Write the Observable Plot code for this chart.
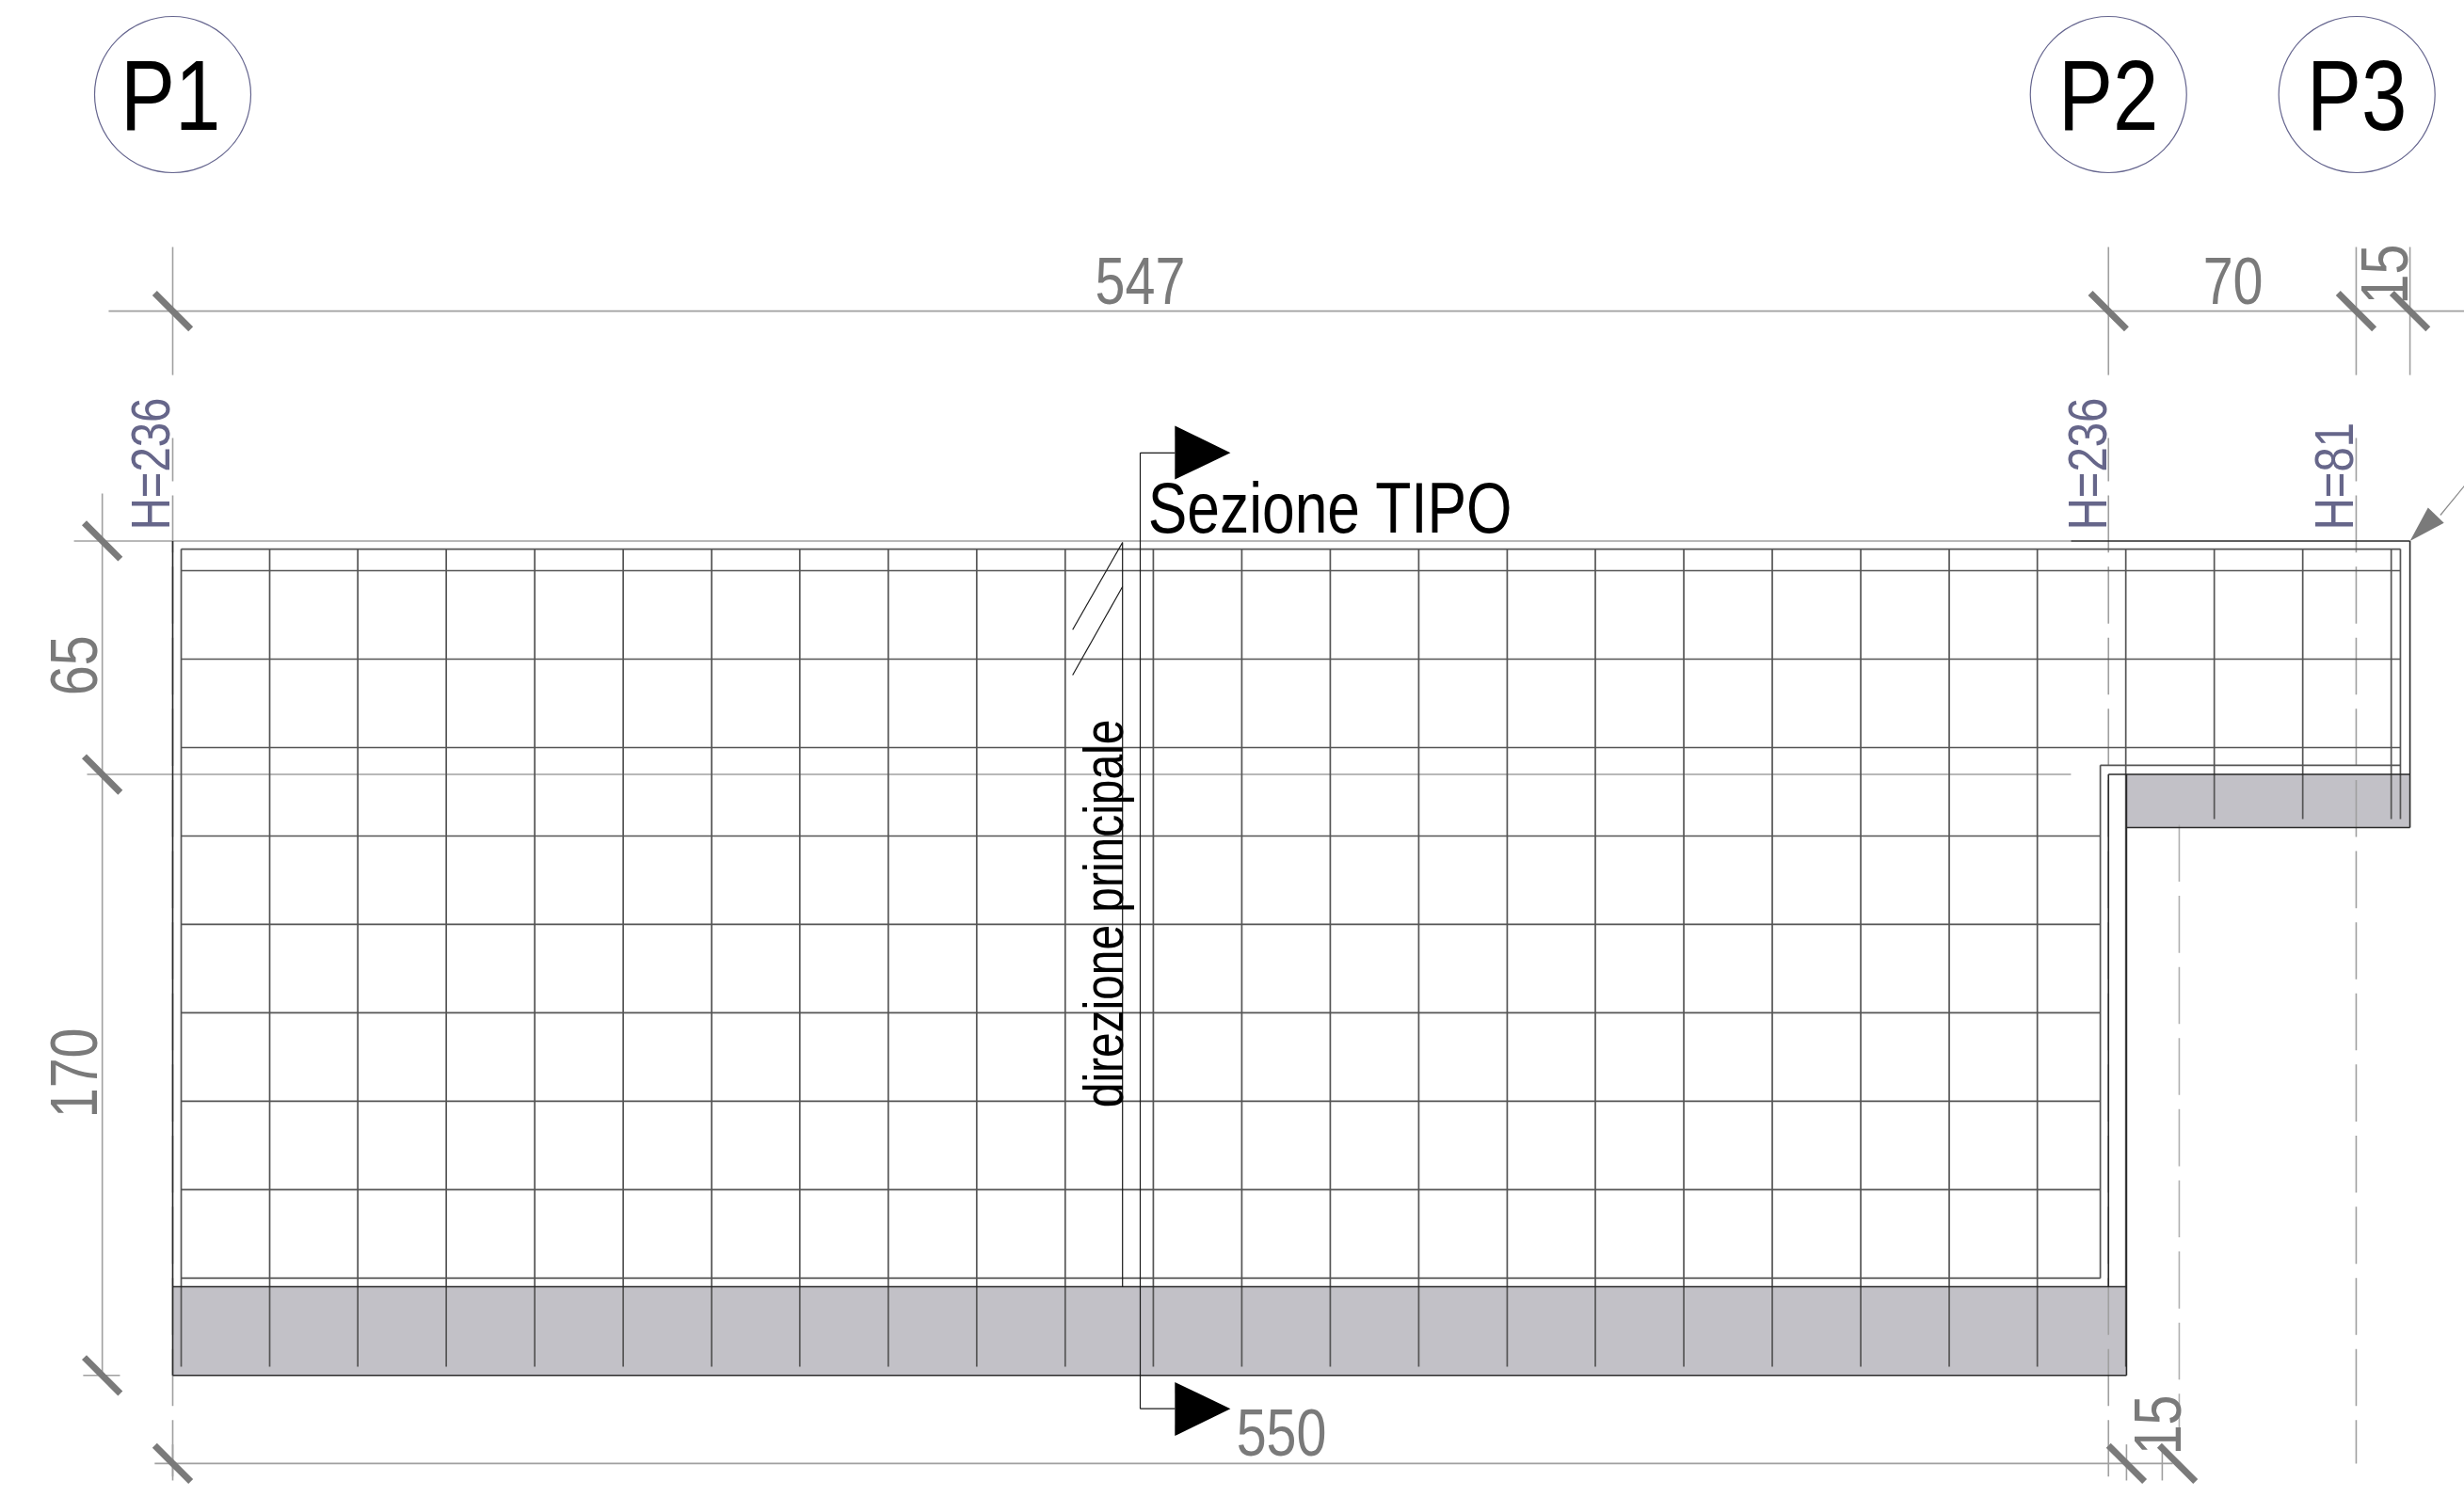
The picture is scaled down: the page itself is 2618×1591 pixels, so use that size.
<!DOCTYPE html>
<html>
<head>
<meta charset="utf-8">
<style>html,body{margin:0;padding:0;background:#fff}svg{display:block}</style>
<script src="https://cdn.jsdelivr.net/npm/d3@7"></script>
<script src="https://cdn.jsdelivr.net/npm/@observablehq/plot@0.6"></script>
</head>
<body>
<div id="chart"></div>
<script>
// Plan values in centimetres: x from axis P1, y downward from the slab's top edge.
const pillars = [["P1", 0], ["P2", 547], ["P3", 617.2]];
const pillarLabelX = [-0.6, 547, 617.2];
const grayBlocks = [[0, 210.8, 552.1, 235.9], [552.1, 66, 632.2, 81]];
const barsLongX = [2.4, 27.4, 52.3, 77.3, 102.3, 127.3, 152.3, 177.2, 202.2, 227.2, 252.2, 277.1, 302.1, 327.1, 352.1, 377.1, 402, 427, 452, 477, 502, 526.9, 551.9];
const barsShortX = [576.9, 601.9, 626.9];
const barsLongY = [8.4, 33.4, 58.4];
const barsShortY = [83.4, 108.4, 133.4, 158.4, 183.4];
const outlineSegs = [[536.4, 0, 632.2, 0], [632.2, 0, 632.2, 81], [552.1, 81, 632.2, 81], [547, 66, 632.2, 66], [547, 66, 547, 210.8], [552.1, 66, 552.1, 235.9], [0, 210.8, 552.1, 210.8], [0, 235.9, 552.1, 235.9], [0, 0, 0, 235.9]];
const innerSegs = [[2.4, 2.3, 629.5, 2.3], [629.5, 2.3, 629.5, 78.6], [544.7, 63.4, 629.5, 63.4], [544.7, 63.4, 544.7, 208.4], [2.4, 208.4, 544.7, 208.4]];
const dimSegs = [[-18.1, -65, 647.6, -65], [0, -83.1, 0, -46.9], [547, -83.1, 547, -46.9], [617, -83.1, 617, -46.9], [632.2, -83.1, 632.2, -46.9], [-27.9, 0, 536.4, 0], [-24.2, 66, 536.4, 66], [-19.9, -13.4, -19.9, 235.9], [-25.3, 235.9, -14.9, 235.9], [-5.1, 260.8, 565.2, 260.8], [0, 255.4, 0, 265.6], [552.1, 255.4, 552.1, 265.6], [562.2, 255.4, 562.2, 265.6]];
const centerLines = [[0, -29.1, 0, 264.5], [547, -29.1, 547, 264.5], [617, -29.1, 617, 260.8]];
const centerLineShort = [[567, 80.2, 567, 258.6]];
const tickCenters = [[0, -65], [547, -65], [617, -65], [632.2, -65], [-19.9, 0], [-19.9, 66], [-19.9, 235.9], [0, 260.8], [552.1, 260.8], [566.5, 260.8]];
const sectionSegs = [[273.4, -24.9, 273.4, 245.3], [273.4, -24.9, 283.2, -24.9], [273.4, 245.3, 283.2, 245.3], [268.4, 0.4, 268.4, 210.8], [254.3, 25.1, 268.4, 0.4], [254.3, 37.9, 268.4, 12.9]];
const blackTriangles = [[[283.2, -32.6], [298.9, -24.9], [283.2, -17.4]], [[283.2, 237.8], [298.9, 245.3], [283.2, 253]]];
const leaderSeg = [[647.6, -15.6, 640.8, -7.3]];
const leaderTriangle = [[632.2, 0], [637.3, -9.4], [641.8, -5.1]];
const dimLabelsH = [["547", 273.4, -66.9], ["70", 582.2, -66.9], ["550", 313.3, 258.6]];
const dimLabelsV = [["15", 631.4, -75.4], ["15", 567.3, 249.9], ["65", -21.3, 35.2], ["170", -21.3, 150.4]];
const heightLabels = [["H=236", -0.8, -3.1], ["H=236", 546.3, -3.1], ["H=81", 616.2, -3.1]];

const FONT = '"Liberation Sans",Arimo,sans-serif';
const NARROW = 0.82; // the lettering is an 82% narrow sans
const seg = s => ({x1: s[0], y1: s[1], x2: s[2], y2: s[3]});
const linkOpts = o => ({x1: "x1", y1: "y1", x2: "x2", y2: "y2", ...o});
const barSegs = [
  ...barsLongX.map(x => [x, 2.3, x, 233.4]),
  ...barsShortX.map(x => [x, 2.3, x, 78.6]),
  ...barsLongY.map(y => [2.4, y, 629.5, y]),
  ...barsShortY.map(y => [2.4, y, 544.7, y])
];
const triangles = blackTriangles.flatMap((t, i) => t.map(p => ({x: p[0], y: p[1], id: i})));

const chart = Plot.plot({
  width: 2618, height: 1591,
  marginTop: 0, marginRight: 0, marginBottom: 0, marginLeft: 0,
  x: {axis: null, domain: [-48.67, 647.6], range: [0, 2618]},
  y: {axis: null, domain: [-152.8, 270.4], range: [0, 1591]},
  style: {background: "#fff", fontFamily: FONT},
  marks: [
    Plot.rect(grayBlocks, {x1: d => d[0], y1: d => d[1], x2: d => d[2], y2: d => d[3], fill: "#c2c1c7"}),
    Plot.link(dimSegs.map(seg), linkOpts({stroke: "#a0a0a0", strokeWidth: 1.6})),
    Plot.link(centerLines.map(seg), linkOpts({stroke: "#a0a0a0", strokeWidth: 1.6, strokeDasharray: "60.6,15", strokeDashoffset: 14.6})),
    Plot.link(centerLineShort.map(seg), linkOpts({stroke: "#b0b0b0", strokeWidth: 1.6, strokeDasharray: "60.6,15"})),
    Plot.link(barSegs.map(seg), linkOpts({stroke: "#555555", strokeWidth: 1.7})),
    Plot.link(innerSegs.map(seg), linkOpts({stroke: "#555555", strokeWidth: 1.7})),
    Plot.link(outlineSegs.map(seg), linkOpts({stroke: "#2a2a2a", strokeWidth: 1.6})),
    Plot.link(sectionSegs.map(seg), linkOpts({stroke: "#1a1a1a", strokeWidth: 1.2})),
    Plot.link(leaderSeg.map(seg), linkOpts({stroke: "#8a8a8a", strokeWidth: 1.2})),
    Plot.line(triangles, {x: "x", y: "y", z: "id", fill: "#000", stroke: "none"}),
    Plot.line(leaderTriangle, {x: d => d[0], y: d => d[1], fill: "#7a7a7a", stroke: "none"}),
    Plot.link(tickCenters, {x1: d => d[0] - 5.1, y1: d => d[1] - 5.1, x2: d => d[0] + 5.1, y2: d => d[1] + 5.1, stroke: "#7a7a7a", strokeWidth: 7}),
    Plot.dot(pillars, {x: d => d[1], y: () => -126.2, r: 83, stroke: "#66668f", strokeWidth: 1.2, fill: "none"}),
    Plot.text(pillars, {x: (d, i) => pillarLabelX[i], y: () => -116.2, text: d => d[0], fontSize: 106, fill: "#000", lineAnchor: "bottom"}),
    Plot.text(dimLabelsH, {x: d => d[1], y: d => d[2], text: d => d[0], fontSize: 70, fill: "#7a7a7a", lineAnchor: "bottom"}),
    Plot.text(dimLabelsV, {x: d => d[1], y: d => d[2], text: d => d[0], fontSize: 70, fill: "#7a7a7a", rotate: -90, lineAnchor: "bottom"}),
    Plot.text(heightLabels, {x: d => d[1], y: d => d[2], text: d => d[0], fontSize: 57.6, fill: "#66668a", rotate: -90, textAnchor: "start", lineAnchor: "bottom"}),
    Plot.text(["Sezione TIPO"], {x: () => 275.6, y: () => -2.3, text: d => d, fontSize: 76, fill: "#000", textAnchor: "start", lineAnchor: "bottom"}),
    Plot.text(["direzione principale"], {x: () => 268.4, y: () => 160.2, text: d => d, fontSize: 58.4, fill: "#000", rotate: -90, textAnchor: "start", lineAnchor: "bottom"})
  ]
});
document.getElementById("chart").appendChild(chart);
// Squeeze each label to the narrow proportions of the reference lettering.
chart.querySelectorAll("text").forEach(t => {
  const w = t.getComputedTextLength();
  t.setAttribute("textLength", (w * NARROW).toFixed(1));
  t.setAttribute("lengthAdjust", "spacingAndGlyphs");
});
</script>
</body>
</html>
